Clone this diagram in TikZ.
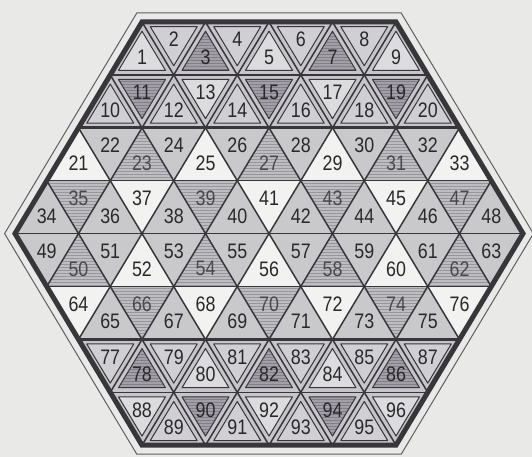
\documentclass[tikz,border=0pt]{standalone}
\usepackage{fontspec}
\newfontfamily\numfont[FakeStretch=0.85]{Liberation Sans}
\usetikzlibrary{patterns}
\definecolor{bgc}{HTML}{E9E9E7}
\definecolor{whc}{HTML}{F2F2F1}
\definecolor{lgc}{HTML}{C9C8CB}
\definecolor{hbc}{HTML}{BEBDC1}
\definecolor{hlc}{HTML}{97969C}
\definecolor{bandc}{HTML}{C6C5C9}
\definecolor{bwc}{HTML}{DCDBDE}
\definecolor{blc}{HTML}{D0CFD3}
\definecolor{dkc}{HTML}{A39FA9}
\definecolor{linec}{HTML}{38363B}
\definecolor{txtc}{HTML}{29282C}
\tikzset{
  num/.style={font=\numfont\fontsize{21}{21}\selectfont, text=txtc, inner sep=0pt},
  gridline/.style={draw=linec, line width=1.5pt},
  wfill/.style={fill=whc},
  lfill/.style={fill=lgc},
  hfill/.style={preaction={fill=hbc}, pattern=horizontal lines, pattern color=hlc},
  bandfill/.style={fill=bandc},
  bwfill/.style={fill=bwc},
  blfill/.style={fill=blc},
  bhfill/.style={preaction={fill=dkc}, pattern=horizontal lines, pattern color=dkc!80!black},
  innertri/.style={draw=linec, line width=1pt, line join=round},
  hexthick/.style={draw=linec, line width=5pt, line join=miter},
  hexthin/.style={draw=linec!80, line width=1pt, line join=miter}
}
\begin{document}
\begin{tikzpicture}[x=1pt,y=-1pt]
\def\cx{269}\def\aa{63.5}\def\hh{52.9}\def\ytop{22}
\pgfmathsetmacro\cy{\ytop+4*\hh}
\pgfmathsetmacro\ybot{\ytop+8*\hh}
\useasboundingbox (0,0) rectangle (532,457);
\fill[bgc] (0,0) rectangle (532,457);
% triangles
\foreach \r/\n/\first in {1/9/1, 2/11/10, 3/13/21, 4/15/34, 5/15/49, 6/13/64, 7/11/77, 8/9/88}{
  \pgfmathtruncatemacro\m{min(\r,9-\r)}
  \pgfmathsetmacro\xs{\cx-(4+\m)*\aa/2}
  \pgfmathsetmacro\yt{\ytop+(\r-1)*\hh}
  \pgfmathsetmacro\yb{\yt+\hh}
  \pgfmathtruncatemacro\isb{(\r==2)+(\r==4)+(\r==5)+(\r==7)}
  \pgfmathtruncatemacro\band{(\r<3)+(\r>6)}
  \pgfmathtruncatemacro\nn{\n-1}
  \foreach \j in {0,...,\nn}{
    \pgfmathsetmacro\xc{\xs+(\j+1)*\aa/2}
    \pgfmathtruncatemacro\up{ifthenelse(\r<5,1-mod(\j,2),mod(\j,2))}
    \ifnum\up=1 \let\yA\yt \let\yB\yb \else \let\yA\yb \let\yB\yt \fi
    \pgfmathsetmacro\yc{(2*\yB+\yA)/3}
    \pgfmathtruncatemacro\s{mod(\j+\isb,4)}
    \pgfmathtruncatemacro\ty{ifthenelse(\s==0,0,ifthenelse(\s==2,2,1))}
    \pgfmathtruncatemacro\num{\first+\j}
    \ifnum\band=0
      \ifcase\ty \def\fs{wfill}\or\def\fs{lfill}\or\def\fs{hfill}\fi
      \path[\fs] (\xc-\aa/2,\yB) -- (\xc+\aa/2,\yB) -- (\xc,\yA) -- cycle;
    \else
      \ifcase\ty \def\fs{bwfill}\or\def\fs{blfill}\or\def\fs{bhfill}\fi
      \path[bandfill] (\xc-\aa/2,\yB) -- (\xc+\aa/2,\yB) -- (\xc,\yA) -- cycle;
      \begin{scope}[shift={(\xc,\yc)},scale=0.74]
        \path[\fs,innertri] (-\aa/2,\yB-\yc) -- (\aa/2,\yB-\yc) -- (0,\yA-\yc) -- cycle;
      \end{scope}
    \fi
    \ifnum\band=0
      \ifnum\ty=2
        \node[num,text=txtc!85] (t\num) at (\xc,\yc) {\num};
      \else
        \node[num] (t\num) at (\xc,\yc) {\num};
      \fi
    \else
      \node[num] (t\num) at (\xc,\yc) {\num};
    \fi
  }
}
% lattice lines
\begin{scope}
\clip (\cx-2*\aa,\ytop) -- (\cx+2*\aa,\ytop) -- (\cx+4*\aa,\cy) -- (\cx+2*\aa,\ybot) -- (\cx-2*\aa,\ybot) -- (\cx-4*\aa,\cy) -- cycle;
\foreach \k in {1,3,4,5,7}
  \draw[gridline] (\cx-5*\aa,\ytop+\k*\hh) -- (\cx+5*\aa,\ytop+\k*\hh);
\foreach \k in {2,6}
  \draw[gridline,line width=2.6pt] (\cx-5*\aa,\ytop+\k*\hh) -- (\cx+5*\aa,\ytop+\k*\hh);
\foreach \k in {-8,...,8}{
  \draw[gridline] (\cx+\k*\aa-2*\aa,\ybot) -- (\cx+\k*\aa+2*\aa,\ytop);
  \draw[gridline] (\cx+\k*\aa+2*\aa,\ybot) -- (\cx+\k*\aa-2*\aa,\ytop);
}
\end{scope}
% hexagon outlines
\draw[hexthick] (\cx-2*\aa,\ytop) -- (\cx+2*\aa,\ytop) -- (\cx+4*\aa,\cy) -- (\cx+2*\aa,\ybot) -- (\cx-2*\aa,\ybot) -- (\cx-4*\aa,\cy) -- cycle;
\draw[hexthin] (\cx-2*\aa-5.2,\ytop-9) -- (\cx+2*\aa+5.2,\ytop-9) -- (\cx+4*\aa+10.4,\cy) -- (\cx+2*\aa+5.2,\ybot+9) -- (\cx-2*\aa-5.2,\ybot+9) -- (\cx-4*\aa-10.4,\cy) -- cycle;
\end{tikzpicture}
\end{document}
